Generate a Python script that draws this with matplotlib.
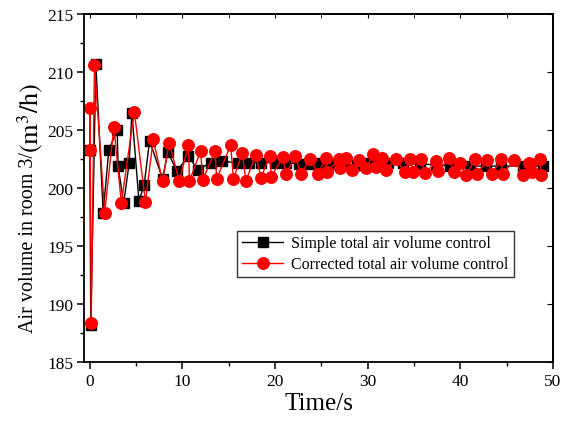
import matplotlib
matplotlib.use("Agg")
import matplotlib.pyplot as plt
from matplotlib.ticker import MultipleLocator

plt.rcParams['font.family'] = ['Liberation Serif', 'DejaVu Serif']
plt.rcParams['mathtext.fontset'] = 'stix'

# Simple total air volume control (black squares)
t_simple = [0.0, 0.1, 0.65, 1.44, 2.05, 2.95, 3.05, 3.65, 4.25, 4.54, 5.3, 5.87, 6.45,
            7.85, 8.4, 9.4, 10.65, 11.65, 13.1, 14.3, 16.0, 17.2, 18.5, 20.0, 21.2,
            22.6, 23.8, 24.9, 26.1, 27.4, 28.8, 29.9, 31.1, 32.2, 33.8, 35.6, 37.4,
            38.9, 41.0, 42.8, 44.4, 46.8, 48.9]
v_simple = [203.3, 188.2, 210.7, 197.9, 203.3, 205.0, 201.9, 198.7, 202.2, 206.5, 198.9, 200.3, 204.1,
            200.8, 203.1, 201.5, 202.75, 201.6, 202.2, 202.3, 202.2, 202.2, 202.2, 202.2, 202.2,
            202.1, 202.1, 202.2, 202.1, 202.1, 202.0, 202.2, 202.1, 202.2, 202.2, 202.1, 202.0,
            201.9, 201.9, 201.9, 201.9, 201.9, 201.9]

# Corrected total air volume control (red circles)
t_corr = [0.0, 0.02, 0.15, 0.5, 1.6, 2.6, 3.4, 4.8, 6.0, 6.84, 7.85, 8.57, 9.65, 10.65, 10.75,
          11.95, 12.2, 13.5, 13.7, 15.2, 15.5, 16.45, 16.85, 17.9, 18.5, 19.4, 19.6, 20.8, 21.2,
          22.2, 22.75, 23.8, 24.65, 25.45, 25.6, 26.9, 27.0, 27.7, 28.3, 29.05, 29.8, 30.6, 30.85,
          31.5, 32.0, 33.0, 34.0, 34.55, 34.9, 35.7, 36.2, 37.4, 37.6, 38.8, 39.35, 39.95, 40.6,
          41.6, 41.75, 42.9, 43.4, 44.35, 44.6, 45.8, 46.8, 47.4, 47.7, 48.6, 48.7]
v_corr = [203.3, 206.9, 188.4, 210.6, 197.9, 205.3, 198.7, 206.6, 198.8, 204.2, 200.6, 203.9, 200.6, 203.7, 200.6,
          203.2, 200.7, 203.2, 200.8, 203.7, 200.8, 203.0, 200.6, 202.85, 200.9, 202.8, 201.0, 202.65, 201.25,
          202.8, 201.2, 202.5, 201.2, 202.6, 201.4, 202.5, 201.7, 202.6, 201.6, 202.4, 201.7, 202.9, 201.8,
          202.6, 201.6, 202.5, 201.4, 202.5, 201.4, 202.5, 201.3, 202.3, 201.5, 202.6, 201.4, 202.2, 201.1,
          202.5, 201.2, 202.4, 201.2, 202.5, 201.2, 202.4, 201.1, 202.2, 201.4, 202.5, 201.1]

label_simple = "Simple total air volume control"
label_corr = "Corrected total air volume control"
xlabel = "Time/s"
ylabel_main = "Air volume in room 3/"
ylabel_unit = r"$\left(\mathrm{m}^{3}/\mathrm{h}\right)$"

fig = plt.figure(figsize=(5.71, 4.27), dpi=100)
ax = fig.add_axes([0.1476, 0.1492, 0.8209, 0.8157])

ax.plot(t_simple, v_simple, color='black', lw=1.0, marker='s', ms=6.5,
        mfc='black', mec='black', label=label_simple)
ax.plot(t_corr, v_corr, color='red', lw=1.0, marker='o', ms=8.3,
        mfc='red', mec='red', label=label_corr)

ax.set_xlim(-0.6, 50)
ax.set_ylim(185, 215)
ax.xaxis.set_major_locator(MultipleLocator(10))
ax.xaxis.set_minor_locator(MultipleLocator(5))
ax.yaxis.set_major_locator(MultipleLocator(5))
ax.yaxis.set_minor_locator(MultipleLocator(2.5))

for s in ax.spines.values():
    s.set_linewidth(1.3)

ax.tick_params(axis='both', which='major', direction='out', length=5, width=1.1,
               labelsize=12.5, pad=3)
ax.tick_params(axis='both', which='minor', direction='out', length=3, width=1.0)

ax2 = ax.secondary_xaxis('top')
ax2.set_xticks([0, 10, 20, 30, 40, 50])
ax2.xaxis.set_minor_locator(MultipleLocator(5))
ax2.tick_params(which='both', direction='in', length=3, labeltop=False)
ax2.spines['top'].set_linewidth(1.3)
ax3 = ax.secondary_yaxis('right')
ax3.yaxis.set_major_locator(MultipleLocator(5))
ax3.yaxis.set_minor_locator(MultipleLocator(2.5))
ax3.tick_params(which='major', direction='in', length=4, labelright=False)
ax3.tick_params(which='minor', length=0)
ax3.spines['right'].set_linewidth(1.3)

ax.set_xlabel(xlabel, fontsize=18, labelpad=2)

t1 = fig.text(29 / 571, 1 - 333 / 427, ylabel_main, rotation=90, fontsize=14.5,
              ha='center', va='bottom')
fig.canvas.draw()
bb = t1.get_window_extent()
t2 = fig.text(30 / 571, bb.y1 / fig.bbox.height - 0.003, ylabel_unit, rotation=90,
              fontsize=19, ha='center', va='bottom')

leg = ax.legend(loc='upper left', bbox_to_anchor=(0.326, 0.378), borderaxespad=0,
                fontsize=11.5, frameon=True, fancybox=False, edgecolor='black',
                handlelength=2.6, handletextpad=0.5, borderpad=0.3, labelspacing=0.3)
leg.get_frame().set_linewidth(1.0)

fig.savefig("out.png", dpi=100)
